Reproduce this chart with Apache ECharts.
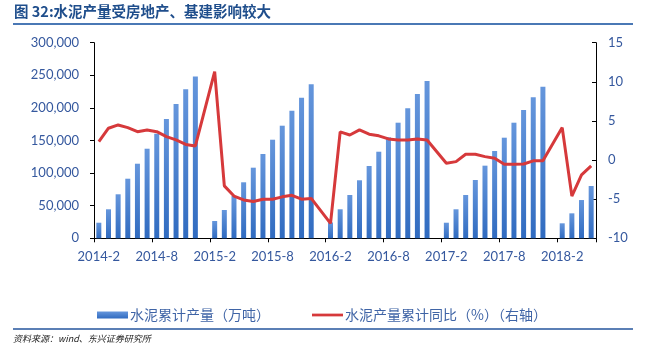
<!DOCTYPE html>
<html><head><meta charset="utf-8">
<script src="https://cdn.jsdelivr.net/npm/echarts@6/dist/echarts.min.js"></script>
<style>html,body{margin:0;padding:0;background:#fff}#c{width:660px;height:358px}</style>
</head><body><div id="c"></div>
<script>
var categories = ['2014-2','2014-3','2014-4','2014-5','2014-6','2014-7','2014-8','2014-9','2014-10','2014-11','2014-12',
 '2015-1','2015-2','2015-3','2015-4','2015-5','2015-6','2015-7','2015-8','2015-9','2015-10','2015-11','2015-12',
 '2016-1','2016-2','2016-3','2016-4','2016-5','2016-6','2016-7','2016-8','2016-9','2016-10','2016-11','2016-12',
 '2017-1','2017-2','2017-3','2017-4','2017-5','2017-6','2017-7','2017-8','2017-9','2017-10','2017-11','2017-12',
 '2018-1','2018-2','2018-3','2018-4','2018-5'];
var production = [23900,44500,67500,91400,114400,137400,160400,183000,206000,228500,248000,
 null,26500,43400,64900,85900,108300,129300,151200,172700,195700,215600,236200,
 null,24300,44500,66400,89000,110900,132800,154900,177300,199400,221300,241300,
 null,23900,44500,66400,89400,111400,133900,154300,177300,196800,216200,232600,
 null,23000,38300,58700,80200];
var growth = [2.35,4.07,4.49,4.15,3.63,3.85,3.63,3.0,2.57,2.0,1.8,
 null,11.3,-3.3,-4.6,-5.1,-5.3,-5.0,-5.0,-4.7,-4.5,-5.0,-4.9,
 null,-8.1,3.6,3.2,3.85,3.3,3.1,2.7,2.57,2.57,2.7,2.57,
 null,-0.4,-0.2,0.74,0.74,0.44,0.23,-0.54,-0.54,-0.5,-0.1,-0.1,
 null,4.15,-4.6,-1.9,-0.75];
var seriesNames = ['水泥累计产量（万吨）','水泥产量累计同比（%）（右轴）'];
var titleText = '图 32:水泥产量受房地产、基建影响较大';
var sourceText = '资料来源：wind、东兴证券研究所';

var labelColor = '#35589e';
var fontFam = 'Lato, "Noto Sans CJK SC", sans-serif';
var chart = echarts.init(document.getElementById('c'), null, {renderer:'canvas'});
chart.setOption({
  animation:false,
  backgroundColor:'#fff',
  grid:{left:94,right:64,top:42.7,bottom:119.7,containLabel:false},
  legend:{
    left:92, top:303, itemWidth:31, itemHeight:7, itemGap:42,
    textStyle:{fontSize:14,color:'#3f64a6',fontFamily:'"Noto Sans CJK SC", sans-serif',padding:[0,0,0,-3]},
    data:[{name:seriesNames[0],icon:'rect'},
          {name:seriesNames[1],icon:'path://M0,0 L34,0 L34,3 L0,3 Z'}]
  },
  graphic:[
    {type:'text',left:14,top:4,style:{text:titleText,fill:'#1f4e8c',font:'bold 14.5px "Noto Sans CJK SC", sans-serif'}},
    {type:'line',shape:{x1:13,y1:24,x2:633,y2:24},style:{stroke:'#4a78b5',lineWidth:2}},
    {type:'line',shape:{x1:13,y1:329,x2:633,y2:329},style:{stroke:'#5b7fb5',lineWidth:2}},
    {type:'text',left:13,top:334,style:{text:sourceText,fill:'#222',font:'italic 9px "Noto Sans CJK SC", sans-serif'}}
  ],
  xAxis:{
    type:'category', data:categories, boundaryGap:true,
    axisLine:{lineStyle:{color:'#000',width:1}},
    axisTick:{show:true,interval:5,length:4,lineStyle:{color:'#000'}},
    axisLabel:{interval:5,color:labelColor,fontSize:13,fontFamily:fontFam,margin:12},
    splitLine:{show:false}
  },
  yAxis:[
    {type:'value',min:0,max:300000,interval:50000,
     axisLine:{show:true,lineStyle:{color:'#000'}},
     axisTick:{show:true,length:4,lineStyle:{color:'#000'}},
     axisLabel:{color:labelColor,fontSize:13,fontFamily:fontFam,margin:15,
       formatter:function(v){return v.toLocaleString('en-US');}},
     splitLine:{show:false}},
    {type:'value',min:-10,max:15,interval:5,position:'right',
     axisLine:{show:true,lineStyle:{color:'#000'}},
     axisTick:{show:true,inside:true,length:4,lineStyle:{color:'#000'}},
     axisLabel:{color:labelColor,fontSize:13,fontFamily:fontFam,margin:12},
     splitLine:{show:false}}
  ],
  series:[
    {name:seriesNames[0],type:'bar',data:production,yAxisIndex:0,barWidth:5,
     itemStyle:{color:new echarts.graphic.LinearGradient(0,0,0,1,[{offset:0,color:'#6596dc'},{offset:1,color:'#306bc0'}])}},
    {name:seriesNames[1],type:'line',data:growth,yAxisIndex:1,symbol:'none',connectNulls:true,
     lineStyle:{color:'#d6393b',width:3},itemStyle:{color:'#d6393b'}}
  ]
});
</script></body></html>
